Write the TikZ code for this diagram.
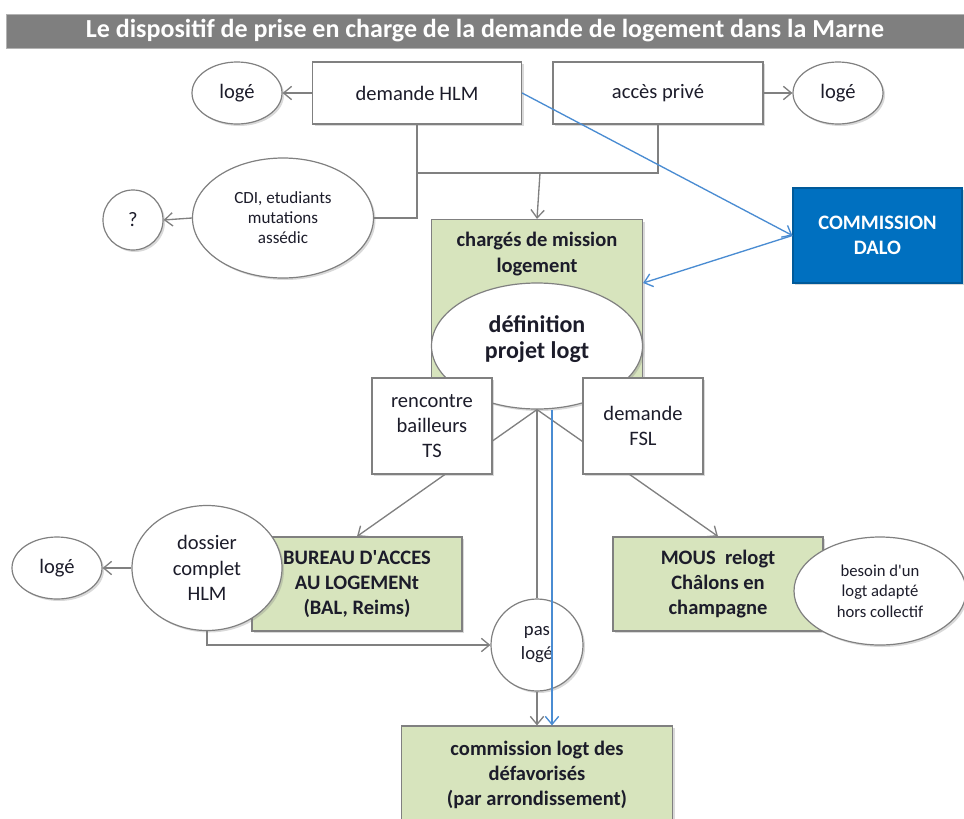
\documentclass[tikz,border=0pt]{standalone}
\usepackage{fontspec}
\setmainfont{Carlito}
\usetikzlibrary{arrows.meta,shapes.geometric,shadows,positioning}
\pgfdeclarelayer{background}
\pgfsetlayers{background,main}

\definecolor{linegray}{HTML}{808080}
\definecolor{titlegray}{HTML}{7F7F7F}
\definecolor{boxgreen}{HTML}{D7E4BD}
\definecolor{daloblue}{HTML}{0070C0}
\definecolor{arrowblue}{HTML}{4A8CD2}
\definecolor{inkdark}{HTML}{1C1C2A}

\tikzset{
  softshadow/.style={drop shadow={shadow xshift=1.5pt,shadow yshift=-1.5pt,opacity=0.3}},
  whitebox/.style={draw=linegray,fill=white,line width=0.9pt,align=center,text=inkdark,
    font=\fontsize{15.4}{19}\selectfont,softshadow},
  greenbox/.style={whitebox,fill=boxgreen,font=\bfseries\fontsize{15.4}{19}\selectfont},
  bubble/.style={ellipse,draw=linegray,fill=white,line width=0.9pt,align=center,inner sep=0pt,
    text=inkdark,font=\fontsize{15.4}{19}\selectfont,softshadow},
  conn/.style={draw=linegray,line width=1pt},
  arr/.style={conn,-{Straight Barb[length=6pt,width=10pt]}},
  bluearr/.style={draw=arrowblue,line width=1pt,-{Straight Barb[length=6pt,width=10pt]}},
}

\begin{document}
\begin{tikzpicture}[x=0.75pt,y=0.75pt,yscale=-1,xscale=1]
\useasboundingbox (0,0) rectangle (964,818);

% Title bar
\node[fill=titlegray,draw=linegray!60,minimum width=718.5pt,minimum height=25.5pt,inner sep=0pt,
  text=white,font=\bfseries\fontsize{19.5}{22}\selectfont] (title) at (485,31)
  {Le dispositif de prise en charge de la demande de logement dans la Marne};

% Top row
\node[whitebox,minimum width=156.75pt,minimum height=46.5pt] (hlm) at (417,93) {demande HLM};
\node[whitebox,minimum width=157.5pt,minimum height=46.5pt] (prive) at (658,93) {accès privé};
\node[bubble,minimum width=67.5pt,minimum height=46.5pt] (logeleft) at (237,93) {logé};
\node[bubble,minimum width=67.5pt,minimum height=46.5pt] (logeright) at (838,93) {logé};
\node[bubble,minimum width=135.75pt,minimum height=90pt,font=\fontsize{12.8}{15}\selectfont] (cdi) at (283,218)
  {CDI, etudiants\\mutations\\assédic};
\node[bubble,circle,minimum size=45pt] (quest) at (133,220) {?};
\coordinate (jn) at (540,173);

% Commission DALO
\node[whitebox,fill=daloblue,draw=daloblue!80!black,text=white,font=\bfseries\fontsize{15.4}{19}\selectfont,
  minimum width=126.75pt,minimum height=71.25pt] (dalo) at (877.5,235.5) {COMMISSION\\DALO};

% Charges de mission + definition
\node[greenbox,minimum width=158.25pt,minimum height=131.25pt] (charges) at (537,307) {};
\node[font=\bfseries\fontsize{15.4}{19}\selectfont,text=inkdark,align=center] (chargestitle) at (537,254)
  {chargés de mission\\logement};
\node[bubble,minimum width=158.25pt,minimum height=94.5pt] (defin) at (537,346) {};
\node[font=\bfseries\fontsize{18}{20}\selectfont,text=inkdark,align=center] (defintext) at (537,339)
  {définition\\projet logt};
\node[whitebox,minimum width=90pt,minimum height=72pt] (rencontre) at (432,426) {rencontre\\bailleurs\\TS};
\node[whitebox,minimum width=90pt,minimum height=72pt] (fsl) at (643,426) {demande\\FSL};

% Lower part
\node[greenbox,minimum width=157.5pt,minimum height=70.5pt] (bal) at (357,584)
  {BUREAU D\textquotesingle ACCES\\AU LOGEMENt\\(BAL, Reims)};
\node[bubble,minimum width=112.5pt,minimum height=93.75pt] (dossier) at (207,568) {dossier\\complet\\HLM};
\node[bubble,minimum width=67.5pt,minimum height=46.5pt] (logelow) at (57,568) {logé};
\node[greenbox,minimum width=157.5pt,minimum height=70.5pt] (mous) at (718,584)
  {MOUS\ \ relogt\\Châlons en\\champagne};
\node[bubble,minimum width=129pt,minimum height=81pt,font=\fontsize{12.5}{15.5}\selectfont] (besoin) at (880,591)
  {besoin d\textquotesingle un\\logt adapté\\hors collectif};
\node[bubble,circle,minimum size=69pt,font=\fontsize{14}{18}\selectfont] (pasloge) at (537,645) {pas\\logé};
\node[greenbox,minimum width=203.25pt,minimum height=73.5pt] (commission) at (537,775)
  {commission logt des\\défavorisés\\(par arrondissement)};

% Gray connectors behind boxes
\begin{pgfonlayer}{background}
\draw[arr] (defin.south) -- (bal.north);
\draw[arr] (defin.south) -- (mous.north);
\draw[conn] (defin.south) -- (pasloge.north);
\end{pgfonlayer}

% Gray connectors
\draw[arr] (hlm.west) -- (logeleft.east);
\draw[arr] (prive.east) -- (logeright.west);
\draw[conn] (hlm.south) |- (cdi.east);
\draw[conn] (prive.south) |- (hlm.south |- jn);
\draw[arr] (jn) -- (charges.north);
\draw[arr] (cdi.west) -- (quest.east);
\draw[arr] (dossier.west) -- (logelow.east);
\draw[arr] (dossier.south) |- (pasloge.west);
\draw[arr] (pasloge.south) -- (commission.north);

% Blue connectors
\draw[bluearr] (hlm.east) -- (dalo.west);
\draw[bluearr] (dalo.west) -- ([yshift=-18pt]charges.east);
\draw[bluearr] ([xshift=11.25pt]defin.south) -- ([xshift=11.25pt]commission.north);

\end{tikzpicture}
\end{document}
